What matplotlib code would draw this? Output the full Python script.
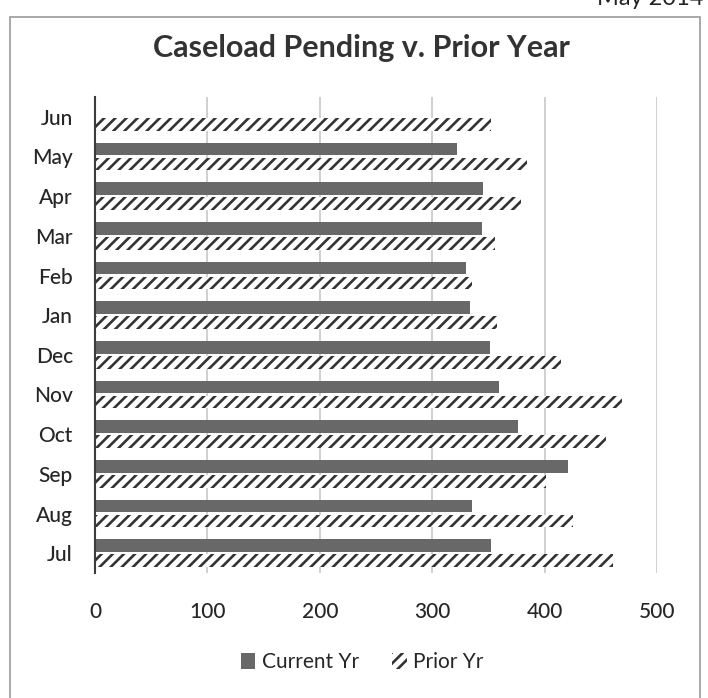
import matplotlib
matplotlib.use("Agg")
import matplotlib.pyplot as plt
import matplotlib.patches as mpatches
import numpy as np

# Months, bottom to top as drawn
months = ["Jul", "Aug", "Sep", "Oct", "Nov", "Dec", "Jan", "Feb", "Mar", "Apr", "May", "Jun"]
current_yr = [352, 335, 421, 376, 359, 351, 334, 330, 344, 345, 322, 0]
prior_yr = [461, 425, 401, 455, 469, 415, 358, 335, 356, 379, 384, 352]
x_ticks = [0, 100, 200, 300, 400, 500]

plt.rcParams["font.family"] = ["Lato", "DejaVu Sans"]
plt.rcParams["hatch.linewidth"] = 1.9

fig = plt.figure(figsize=(7.08, 6.98), dpi=100)
ax = fig.add_axes([95 / 708, 1 - 573 / 698, (657 - 95) / 708, (573 - 97) / 698])

y = np.arange(len(months))
bar_h = 0.32
offset = 0.19

# Current year bars sit above, prior year (hatched) below
ax.barh(y + offset, current_yr, height=bar_h, color="#686868", linewidth=0, zorder=3)
ax.barh(y - offset, prior_yr, height=bar_h, color="white", edgecolor="#333333",
        hatch="///", linewidth=0, zorder=3)

ax.set_xlim(0, 500)
ax.set_ylim(-0.5, len(months) - 0.5)
ax.set_xticks(x_ticks)
ax.set_yticks(y)
ax.set_yticklabels(months)
ax.tick_params(axis="both", length=0, labelsize=15, colors="#262626")
ax.tick_params(axis="y", pad=16)
ax.tick_params(axis="x", pad=21)
for lbl in ax.get_xticklabels() + ax.get_yticklabels():
    lbl.set_fontweight("medium")

# Light vertical gridlines
ax.grid(axis="x", color="#c8c8c8", linewidth=1.2, zorder=0)
for side in ["top", "right", "bottom"]:
    ax.spines[side].set_visible(False)
ax.spines["left"].set_color("#3c3c3c")
ax.spines["left"].set_linewidth(1.5)
ax.spines["left"].set_zorder(4)

# Title
fig.text(361 / 708, 1 - 48 / 698, "Caseload Pending v. Prior Year", ha="center", va="center",
         fontsize=22, fontweight="bold", color="#333333")

# Legend
handles = [mpatches.Patch(facecolor="#686868", linewidth=0, label="Current Yr"),
           mpatches.Patch(facecolor="white", edgecolor="#333333", hatch="///", linewidth=0, label="Prior Yr")]
fig.legend(handles=handles, loc="center", bbox_to_anchor=(362 / 708, 1 - 662 / 698), ncol=2,
           frameon=False, fontsize=15, handlelength=0.7, handleheight=0.8, handletextpad=0.3,
           columnspacing=1.6, labelcolor="#262626")

# Chart border
fig.patches.append(mpatches.Rectangle((10 / 708, -0.01), 690 / 708, 1 - 17 / 698 + 0.01,
                                      transform=fig.transFigure, fill=False,
                                      edgecolor="#9a9a9a", linewidth=1.2))

# Header text at top right, cut off by the page edge as in the scan
fig.text(597 / 708, 1 - 5 / 698, "May 2014", ha="left", va="baseline", fontsize=17, color="#222222")

fig.savefig("out.png", dpi=100)
